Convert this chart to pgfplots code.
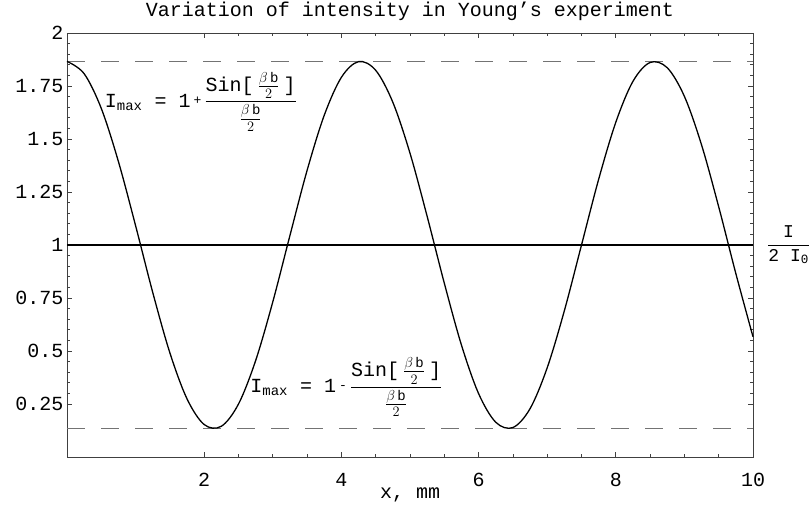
\documentclass[border=0pt]{standalone}
\usepackage{pgfplots}
\pgfplotsset{compat=1.18}
\usepackage{amsmath}
\usepackage{fontspec}
\setmainfont{Liberation Mono}

\newcommand{\bfr}{\tfrac{\beta\,\text{b}}{2}}
\newcommand{\sinfrac}{\dfrac{\text{Sin[}\hspace{4pt}\bfr\hspace{4pt}\text{]}}{\bfr}}

\begin{document}
\begin{tikzpicture}
\begin{axis}[
  name=ax,
  scale only axis,
  width=686pt, height=424pt,
  xmin=0, xmax=10, ymin=0, ymax=2,
  axis line style={black!75, line width=0.9pt},
  tick style={black!75, line width=0.8pt},
  major tick length=5pt, minor tick length=3pt,
  tick align=inside,
  xtick={2,4,6,8,10},
  xticklabels={2,4,6,8,10},
  minor x tick num=3,
  ytick={0.25,0.5,0.75,1,1.25,1.5,1.75,2},
  yticklabels={0.25,0.5,0.75,1,1.25,1.5,1.75,2},
  minor y tick num=4,
  tick label style={font=\fontsize{20}{24}\selectfont},
  xticklabel style={anchor=base, yshift=-29pt},
  title={Variation of intensity in Young's experiment},
  title style={font=\fontsize{20}{24}\selectfont, at={(0.5,1)}, anchor=base, yshift=10pt},
  xlabel={x, mm},
  xlabel style={font=\fontsize{20}{24}\selectfont, at={(axis description cs:0.5,0)}, anchor=center, yshift=-38pt},
  clip=false,
]
% bounding intensity levels
\addplot[black!55, line width=1.1pt, dash pattern=on 18pt off 16pt] coordinates {(0,1.866) (10,1.866)};
\addplot[black!55, line width=1.1pt, dash pattern=on 18pt off 16pt] coordinates {(0,0.134) (10,0.134)};
% mean level
\addplot[black, line width=1.1pt] coordinates {(0,1) (10,1)};
% fringe intensity
\addplot[black, line width=1.3pt, smooth, tension=0.55] coordinates {
(0,1.866)(0.25,1.808)(0.5,1.644)(0.75,1.393)(1,1.091)(1.25,0.776)(1.5,0.491)
(1.75,0.274)(2,0.153)(2.25,0.145)(2.5,0.250)(2.75,0.455)(3,0.732)(3.25,1.045)
(3.5,1.352)(3.75,1.612)(4,1.791)(4.25,1.865)(4.5,1.824)(4.75,1.673)(5,1.433)
(5.25,1.135)(5.5,0.820)(5.75,0.528)(6,0.299)(6.25,0.164)(6.5,0.139)(6.75,0.228)
(7,0.421)(7.25,0.690)(7.5,1.000)(7.75,1.310)(8,1.579)(8.25,1.772)(8.5,1.861)
(8.75,1.836)(9,1.701)(9.25,1.472)(9.5,1.180)(9.75,0.865)(10,0.567)};

\node[anchor=west, inner sep=0pt, font=\fontsize{20}{24}\selectfont] at (axis cs:0.55,1.675)
  {$\text{I}_{\text{max}}$ = 1\hspace{3pt}\raisebox{3pt}{\fontsize{13}{15}\selectfont+}\hspace{3pt}$\sinfrac$};
\node[anchor=west, inner sep=0pt, font=\fontsize{20}{24}\selectfont] at (axis cs:2.67,0.33)
  {$\text{I}_{\text{max}}$ = 1\hspace{3pt}\raisebox{3pt}{\fontsize{13}{15}\selectfont-}\hspace{3pt}$\sinfrac$};
\node[anchor=west, inner sep=0pt, font=\fontsize{18}{21}\selectfont] at ([xshift=14pt]rel axis cs:1,0.5)
  {$\dfrac{\text{I}}{\text{2 I}_{\text{0}}}$};
\end{axis}
\pgfresetboundingbox
\path ([xshift=-67pt,yshift=-51pt]ax.south west) rectangle ([xshift=57pt,yshift=33pt]ax.north east);
\end{tikzpicture}
\end{document}
